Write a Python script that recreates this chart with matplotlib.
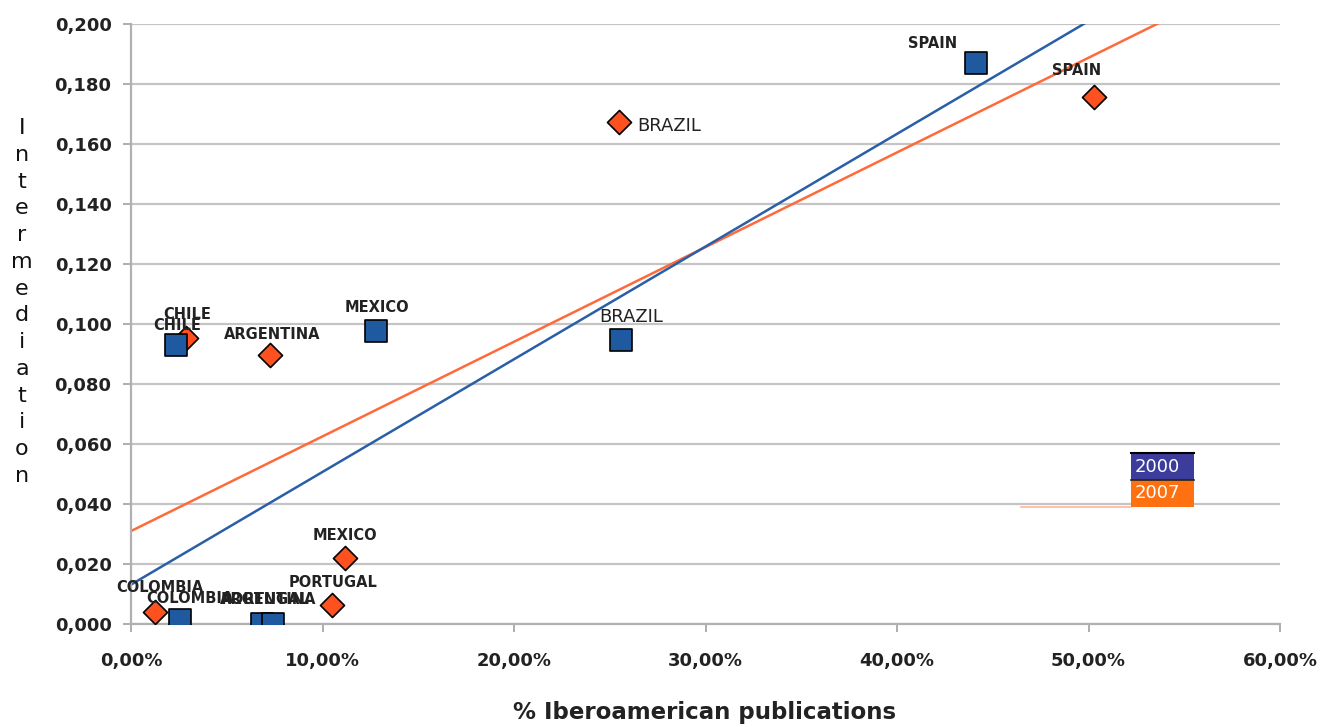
import numpy as np
import matplotlib
matplotlib.use("Agg")
import matplotlib.pyplot as plt
from matplotlib.patches import Rectangle
from matplotlib import font_manager

# ---- data ----
countries_2000 = ["CHILE", "COLOMBIA", "PORTUGAL", "ARGENTINA", "MEXICO", "BRAZIL", "SPAIN"]
pub_2000 = [0.0235, 0.0256, 0.0684, 0.0740, 0.128, 0.256, 0.441]
inter_2000 = [0.093, 0.0013, 0.0000, 0.0000, 0.0977, 0.0947, 0.187]

countries_2007 = ["COLOMBIA", "CHILE", "ARGENTINA", "PORTUGAL", "MEXICO", "BRAZIL", "SPAIN"]
pub_2007 = [0.0125, 0.0287, 0.0726, 0.105, 0.1117, 0.255, 0.503]
inter_2007 = [0.004, 0.0953, 0.0897, 0.0063, 0.022, 0.1673, 0.1757]

x_ticks = [0.0, 0.1, 0.2, 0.3, 0.4, 0.5, 0.6]
x_tick_labels = ["0,00%", "10,00%", "20,00%", "30,00%", "40,00%", "50,00%", "60,00%"]
y_ticks = [0.0, 0.02, 0.04, 0.06, 0.08, 0.10, 0.12, 0.14, 0.16, 0.18, 0.20]
y_tick_labels = ["0,000", "0,020", "0,040", "0,060", "0,080", "0,100",
                 "0,120", "0,140", "0,160", "0,180", "0,200"]
legend_labels = ["2000", "2007"]

# ---- style ----
BLUE = "#1f5aa0"
ORANGE = "#ff5020"
LINE_BLUE = "#2a5fa8"
LINE_ORANGE = "#ff6a3a"

available = {f.name for f in font_manager.fontManager.ttflist}
NARROW = [f for f in ["Liberation Sans Narrow", "DejaVu Sans Condensed"] if f in available] + ["DejaVu Sans"]

fig = plt.figure(figsize=(13.2, 7.27), dpi=100)
ax = fig.add_axes([131/1320, 1-624/727, (1280-131)/1320, (624-24)/727])
ax.set_xlim(0, 0.6)
ax.set_ylim(0, 0.2)

# grid
ax.set_axisbelow(True)
ax.yaxis.grid(True, color="#c4c4c4", lw=1.6)
for s in ["top", "right"]:
    ax.spines[s].set_visible(False)
for s in ["left", "bottom"]:
    ax.spines[s].set_color("#b0b0b0")
    ax.spines[s].set_linewidth(1.6)
ax.tick_params(axis="both", colors="#a0a0a0", length=6, width=1.2, direction="out")
ax.tick_params(axis="x", pad=14)
ax.tick_params(axis="y", pad=8)

ax.set_xticks(x_ticks)
ax.set_xticklabels(x_tick_labels)
ax.set_yticks(y_ticks)
ax.set_yticklabels(y_tick_labels)
for lab in ax.get_xticklabels() + ax.get_yticklabels():
    lab.set_family(NARROW)
    lab.set_fontweight("bold")
    lab.set_fontsize(13)
    lab.set_color("#222222")

# trend lines (least squares fit)
xx = np.array([0.0, 0.6])
for px, py, c in [(pub_2007, inter_2007, LINE_ORANGE), (pub_2000, inter_2000, LINE_BLUE)]:
    m, b = np.polyfit(px, py, 1)
    ax.plot(xx, m*xx + b, color=c, lw=1.8, zorder=2)

# points
ax.scatter(pub_2007, inter_2007, marker="D", s=150, color=ORANGE, edgecolor="black",
           linewidth=1.2, zorder=4)
ax.scatter(pub_2000, inter_2000, marker="s", s=260, color=BLUE, edgecolor="black",
           linewidth=1.2, zorder=5)

# labels (offsets in pixels)
off_2000 = {"CHILE": (1, 20), "COLOMBIA": (10, 22), "PORTUGAL": (3, 24),
            "ARGENTINA": (-5, 24), "MEXICO": (1, 23), "BRAZIL": (10, 23), "SPAIN": (-43, 19)}
off_2007 = {"COLOMBIA": (5, 24), "CHILE": (1, 24), "ARGENTINA": (2, 20),
            "PORTUGAL": (1, 23), "MEXICO": (0, 22), "BRAZIL": (18, -4), "SPAIN": (-18, 26)}

for name, x, y in zip(countries_2000, pub_2000, inter_2000):
    dx, dy = off_2000[name]
    if name == "BRAZIL":
        ax.annotate(name, (x, y), xytext=(dx, dy), textcoords="offset pixels",
                    ha="center", va="center", fontsize=13, family=NARROW, color="#222222", zorder=6)
    else:
        ax.annotate(name, (x, y), xytext=(dx, dy), textcoords="offset pixels",
                    ha="center", va="center", fontsize=10.5, fontweight="bold",
                    family=NARROW, color="#222222", zorder=6)

for name, x, y in zip(countries_2007, pub_2007, inter_2007):
    dx, dy = off_2007[name]
    if name == "BRAZIL":
        ax.annotate(name, (x, y), xytext=(dx, dy), textcoords="offset pixels",
                    ha="left", va="center", fontsize=13, family=NARROW, color="#222222", zorder=6)
    else:
        ax.annotate(name, (x, y), xytext=(dx, dy), textcoords="offset pixels",
                    ha="center", va="center", fontsize=10.5, fontweight="bold",
                    family=NARROW, color="#222222", zorder=6)

# legend boxes
lx0, lx1 = 0.522, 0.555
ax.plot([0.465, lx0], [0.039, 0.039], color=LINE_ORANGE, lw=1.2, alpha=0.5, zorder=3)
ax.add_patch(Rectangle((lx0, 0.048), lx1-lx0, 0.009, facecolor="#3c3c9c", edgecolor="none", zorder=6))
ax.plot([lx0, lx1], [0.057, 0.057], color="black", lw=1.5, zorder=7)
ax.plot([lx0, lx1], [0.048, 0.048], color="#222222", lw=1.2, zorder=7)
ax.add_patch(Rectangle((lx0, 0.039), lx1-lx0, 0.009, facecolor="#ff7010", edgecolor="none", zorder=6))
ax.text(lx0 + 0.002, 0.0525, legend_labels[0], ha="left", va="center", color="white",
        fontsize=13, family=NARROW, zorder=8)
ax.text(lx0 + 0.002, 0.0435, legend_labels[1], ha="left", va="center", color="white",
        fontsize=13, family=NARROW, zorder=8)

# axis titles
fig.text(22/1320, 1-302/727, "\n".join("Intermediation"), ha="center", va="center",
         fontsize=16, linespacing=1.42, color="#111111", family=["DejaVu Sans"])
fig.text(705/1320, 1-712/727, "% Iberoamerican publications", ha="center", va="center",
         fontsize=16.5, fontweight="bold", color="#222222", family=NARROW)

fig.savefig("out.png", dpi=100)
